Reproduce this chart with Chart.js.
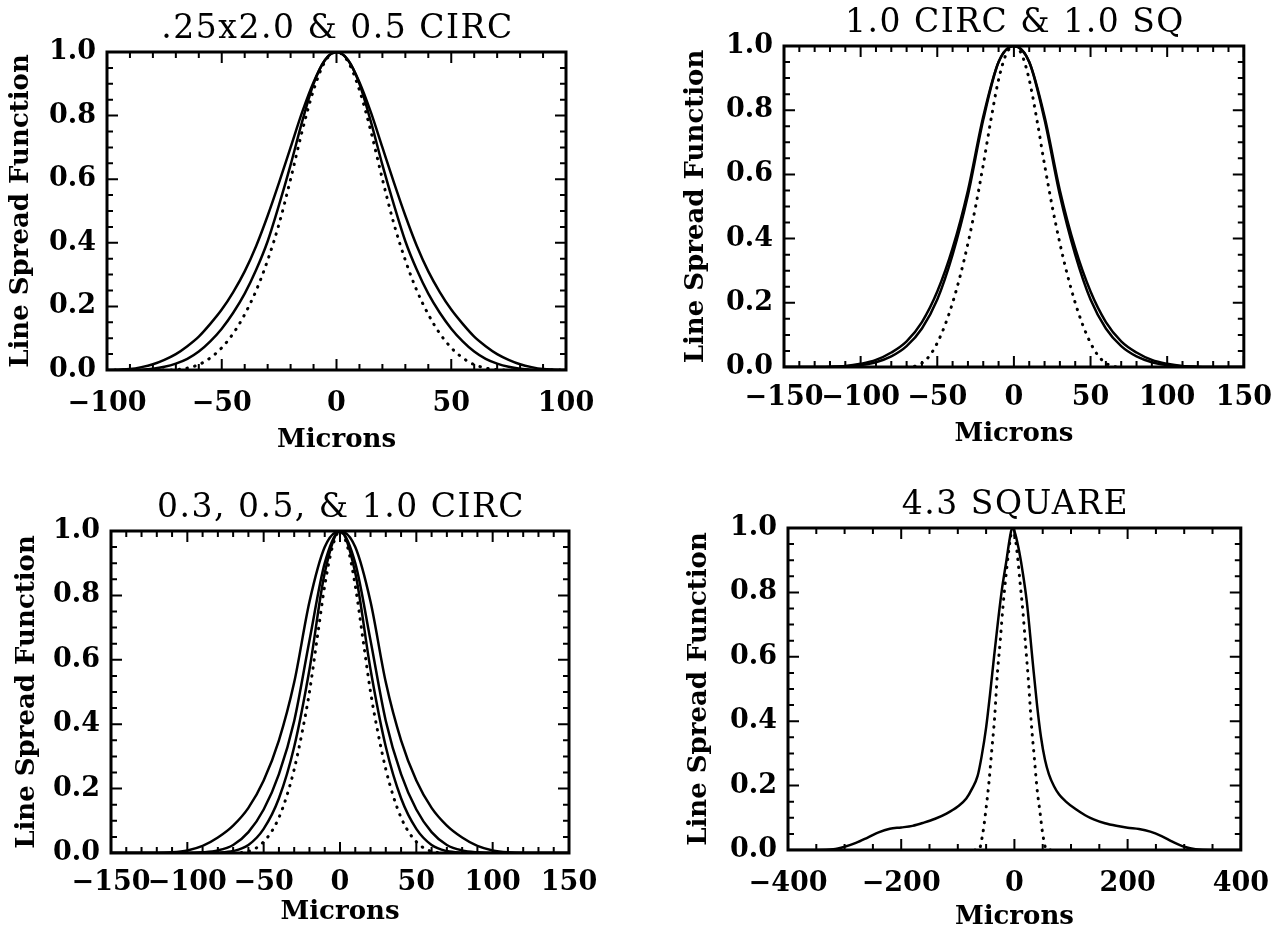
<!DOCTYPE html>
<html>
<head>
<meta charset="utf-8">
<script src="https://cdn.jsdelivr.net/npm/chart.js@4.4.0/dist/chart.umd.min.js"></script>
<style>
    body { margin: 0; background: #fff; width: 1287px; height: 935px; position: relative; overflow: hidden; }
    canvas { position: absolute; }
</style>
</head>
<body>
<canvas id="c1" width="643" height="467" style="left:0px;top:0px"></canvas>
<canvas id="c2" width="644" height="467" style="left:643px;top:0px"></canvas>
<canvas id="c3" width="643" height="468" style="left:0px;top:467px"></canvas>
<canvas id="c4" width="644" height="468" style="left:643px;top:467px"></canvas>
<script>
console.log('main loaded');

// titels en as-teksten
const titles = ['.25x2.0 & 0.5 CIRC', '1.0 CIRC & 1.0 SQ', '0.3, 0.5, & 1.0 CIRC', '4.3 SQUARE'];
const xLabel = 'Microns';
const yLabel = 'Line Spread Function';
const yTicks = [0, 0.2, 0.4, 0.6, 0.8, 1.0];

// paneel 1 (-100..100)
const p1X = [-100,-95,-90,-85,-80,-75,-70,-65,-60,-55,-50,-45,-40,-35,-30,-25,-20,-15,-10,-5,0,5,10,15,20,25,30,35,40,45,50,55,60,65,70,75,80,85,90,95,100];
const p1Outer = [0,0.001,0.003,0.009,0.018,0.032,0.05,0.075,0.105,0.145,0.19,0.245,0.31,0.39,0.485,0.59,0.70,0.81,0.905,0.975,1.0,0.975,0.905,0.81,0.70,0.59,0.485,0.39,0.31,0.245,0.19,0.145,0.105,0.075,0.05,0.032,0.018,0.009,0.003,0.001,0];
const p1Inner = [0,0,0,0.001,0.004,0.01,0.02,0.035,0.058,0.09,0.13,0.18,0.24,0.315,0.405,0.52,0.645,0.78,0.9,0.975,1.0,0.975,0.9,0.78,0.645,0.52,0.405,0.315,0.24,0.18,0.13,0.09,0.058,0.035,0.02,0.01,0.004,0.001,0,0,0];
const p1Dot = [0,0,0,0,0,0,0.001,0.006,0.017,0.038,0.07,0.115,0.175,0.25,0.345,0.46,0.6,0.75,0.88,0.97,1.0,0.97,0.88,0.75,0.6,0.46,0.345,0.25,0.175,0.115,0.07,0.038,0.017,0.006,0.001,0,0,0,0,0,0];

// paneel 2 (-150..150)
const p2X = [-150,-140,-130,-120,-110,-100,-90,-80,-70,-60,-50,-40,-30,-20,-10,0,10,20,30,40,50,60,70,80,90,100,110,120,130,140,150];
const p2Circ = [0,0,0,0.001,0.003,0.01,0.022,0.045,0.08,0.14,0.235,0.37,0.55,0.78,0.95,1.0,0.95,0.78,0.55,0.37,0.235,0.14,0.08,0.045,0.022,0.01,0.003,0.001,0,0,0];
const p2Sq = [0,0,0,0,0.002,0.006,0.015,0.033,0.065,0.12,0.21,0.35,0.535,0.77,0.95,1.0,0.95,0.77,0.535,0.35,0.21,0.12,0.065,0.033,0.015,0.006,0.002,0,0,0,0];
const p2DotX = [-70,-65,-60,-55,-50,-45,-40,-35,-30,-25,-20,-15,-10,-5,0,5,10,15,20,25,30,35,40,45,50,55,60,65,70];
const p2Dot = [0,0.002,0.012,0.035,0.075,0.13,0.2,0.285,0.385,0.5,0.63,0.77,0.895,0.975,1.0,0.975,0.895,0.77,0.63,0.5,0.385,0.285,0.2,0.13,0.075,0.035,0.012,0.002,0];

// paneel 3 (-150..150)
const p3X = [-150,-140,-130,-120,-110,-100,-90,-80,-70,-60,-50,-40,-30,-20,-10,0,10,20,30,40,50,60,70,80,90,100,110,120,130,140,150];
const p3Circ10 = [0,0,0,0,0.002,0.008,0.022,0.048,0.085,0.14,0.225,0.35,0.53,0.78,0.95,1.0,0.95,0.78,0.53,0.35,0.225,0.14,0.085,0.048,0.022,0.008,0.002,0,0,0,0];
const p3Circ05 = [0,0,0,0,0,0,0.002,0.008,0.025,0.065,0.135,0.245,0.41,0.66,0.9,1.0,0.9,0.66,0.41,0.245,0.135,0.065,0.025,0.008,0.002,0,0,0,0,0,0];
const p3Circ03 = [0,0,0,0,0,0,0,0.001,0.006,0.025,0.075,0.17,0.33,0.57,0.87,1.0,0.87,0.57,0.33,0.17,0.075,0.025,0.006,0.001,0,0,0,0,0,0,0];
const p3DotX = [-70,-65,-60,-55,-50,-45,-40,-35,-30,-25,-20,-15,-10,-5,0,5,10,15,20,25,30,35,40,45,50,55,60,65,70];
const p3Dot = [0,0.001,0.005,0.015,0.035,0.065,0.11,0.175,0.26,0.37,0.5,0.665,0.83,0.95,1.0,0.95,0.83,0.665,0.5,0.37,0.26,0.175,0.11,0.065,0.035,0.015,0.005,0.001,0];

// paneel 4 (-400..400)
const p4X = [-400,-350,-320,-300,-280,-260,-240,-220,-200,-180,-160,-140,-120,-100,-85,-75,-65,-58,-50,-43,-36,-29,-22,-14,-8,-4,0,7,14,22,32,40,47,54,61,70,79,90,108,125,140,160,180,200,220,240,260,280,300,320,350,400];
const p4Square = [0,0,0.002,0.01,0.022,0.038,0.055,0.066,0.07,0.075,0.085,0.097,0.113,0.135,0.16,0.19,0.23,0.29,0.38,0.485,0.6,0.71,0.81,0.9,0.97,1.0,0.99,0.94,0.87,0.77,0.59,0.45,0.35,0.28,0.235,0.198,0.172,0.152,0.127,0.108,0.095,0.083,0.075,0.069,0.065,0.057,0.043,0.025,0.01,0.002,0,0];
const p4DotX = [-70,-63,-56,-50,-45,-40,-35,-30,-25,-20,-15,-10,-5,-3,0,5,10,15,20,25,30,35,40,45,50,57,64];
const p4Dot = [0,0,0.05,0.13,0.21,0.31,0.41,0.55,0.65,0.76,0.85,0.93,0.99,1.0,0.985,0.92,0.83,0.74,0.63,0.52,0.39,0.29,0.19,0.12,0.05,0,0];

function points(xs, ys) {
    const out = [];
    for (let i = 0; i < xs.length; i++) {
        out.push({ x: xs[i], y: ys[i] });
    }
    return out;
}

function solid(xs, ys) {
    return { data: points(xs, ys), borderColor: '#000', borderWidth: 2.5, pointRadius: 0, cubicInterpolationMode: 'monotone', fill: false };
}

function dotted(xs, ys) {
    return { data: points(xs, ys), borderColor: '#000', borderWidth: 3, borderDash: [0.5, 7.5], borderCapStyle: 'round', pointRadius: 0, cubicInterpolationMode: 'monotone', fill: false };
}

function fmt(v) {
    return v < 0 ? '\u2212' + Math.abs(v) : String(v);
}

// kader met naar binnen wijzende streepjes op alle vier zijden
const framePlugin = {
    id: 'frame',
    afterDatasetsDraw(chart, args, opts) {
        const ctx = chart.ctx;
        const a = chart.chartArea;
        const x = chart.scales.x;
        const y = chart.scales.y;
        ctx.save();
        ctx.strokeStyle = '#000';
        ctx.lineWidth = 2;
        ctx.beginPath();
        const nx = Math.round((x.max - x.min) / opts.xMinor);
        for (let i = 0; i <= nx; i++) {
            const v = x.min + i * opts.xMinor;
            const px = x.getPixelForValue(v);
            const len = (i % opts.xEvery === 0) ? 11 : 6;
            ctx.moveTo(px, a.bottom); ctx.lineTo(px, a.bottom - len);
            ctx.moveTo(px, a.top); ctx.lineTo(px, a.top + len);
        }
        const ny = Math.round((y.max - y.min) / 0.05);
        for (let i = 0; i <= ny; i++) {
            const py = y.getPixelForValue(i * 0.05);
            const len = (i % 4 === 0) ? 11 : 6;
            ctx.moveTo(a.left, py); ctx.lineTo(a.left + len, py);
            ctx.moveTo(a.right, py); ctx.lineTo(a.right - len, py);
        }
        ctx.stroke();
        ctx.lineWidth = 3;
        ctx.strokeRect(a.left, a.top, a.right - a.left, a.bottom - a.top);
        ctx.restore();
    }
};

// titel gecentreerd boven het plotvak
const boxTitlePlugin = {
    id: 'boxTitle',
    afterDraw(chart, args, opts) {
        const ctx = chart.ctx;
        const a = chart.chartArea;
        ctx.save();
        ctx.font = '33px "DejaVu Serif"';
        ctx.fillStyle = '#000';
        ctx.textAlign = 'center';
        ctx.textBaseline = 'middle';
        ctx.letterSpacing = '1.5px';
        ctx.fillText(opts.text, (a.left + a.right) / 2 + 1, a.top - 23);
        ctx.restore();
    }
};

function createPanel(canvasId, title, datasets, xr, lay) {
    const canvas = document.getElementById(canvasId);
    const tickFont = { family: 'DejaVu Serif', weight: 'bold', size: 27 };
    const labelFont = { family: 'DejaVu Serif', weight: 'bold', size: 26 };
    new Chart(canvas, {
        type: 'line',
        data: { datasets: datasets },
        plugins: [framePlugin, boxTitlePlugin],
        options: {
            responsive: false,
            animation: false,
            events: [],
            layout: { padding: { left: 0, top: lay.top, right: lay.right, bottom: 0 } },
            plugins: {
                legend: { display: false },
                tooltip: { enabled: false },
                frame: { xMinor: xr.minor, xEvery: xr.every },
                boxTitle: { text: title }
            },
            scales: {
                x: {
                    type: 'linear',
                    min: xr.min,
                    max: xr.max,
                    afterBuildTicks: s => { s.ticks = xr.ticks.map(v => ({ value: v })); },
                    ticks: { callback: v => fmt(v), font: tickFont, color: '#000', padding: lay.tickPad, maxRotation: 0, autoSkip: false },
                    grid: { display: false, drawTicks: false },
                    border: { display: false },
                    title: { display: true, text: xLabel, color: '#000', font: labelFont, padding: { top: 0, bottom: lay.xTitle } },
                    afterFit: s => { s.height = lay.xAxisH; }
                },
                y: {
                    min: 0,
                    max: 1,
                    afterBuildTicks: s => { s.ticks = yTicks.map(v => ({ value: v })); },
                    ticks: { callback: v => v.toFixed(1), font: tickFont, color: '#000', padding: 11 },
                    grid: { display: false, drawTicks: false },
                    border: { display: false },
                    title: { display: true, text: yLabel, color: '#000', font: labelFont, padding: { top: lay.yTitle, bottom: 0 } },
                    afterFit: s => { s.width = lay.left; }
                }
            }
        }
    });
}

createPanel('c1', titles[0],
    [solid(p1X, p1Outer), solid(p1X, p1Inner), dotted(p1X, p1Dot)],
    { min: -100, max: 100, ticks: [-100, -50, 0, 50, 100], minor: 10, every: 5 },
    { left: 107, top: 52, right: 77, xAxisH: 97, tickPad: 18, xTitle: 11, yTitle: 6 });

createPanel('c2', titles[1],
    [solid(p2X, p2Circ), solid(p2X, p2Sq), dotted(p2DotX, p2Dot)],
    { min: -150, max: 150, ticks: [-150, -100, -50, 0, 50, 100, 150], minor: 10, every: 5 },
    { left: 141, top: 46, right: 43, xAxisH: 100, tickPad: 15, xTitle: 17, yTitle: 38 });

createPanel('c3', titles[2],
    [solid(p3X, p3Circ10), solid(p3X, p3Circ05), solid(p3X, p3Circ03), dotted(p3DotX, p3Dot)],
    { min: -150, max: 150, ticks: [-150, -100, -50, 0, 50, 100, 150], minor: 10, every: 5 },
    { left: 111, top: 64, right: 74, xAxisH: 82, tickPad: 14, xTitle: 7, yTitle: 12 });

createPanel('c4', titles[3],
    [solid(p4X, p4Square), dotted(p4DotX, p4Dot)],
    { min: -400, max: 400, ticks: [-400, -200, 0, 200, 400], minor: 50, every: 4 },
    { left: 145, top: 61, right: 40, xAxisH: 85, tickPad: 18, xTitle: 2, yTitle: 41 });
</script>
</body>
</html>
